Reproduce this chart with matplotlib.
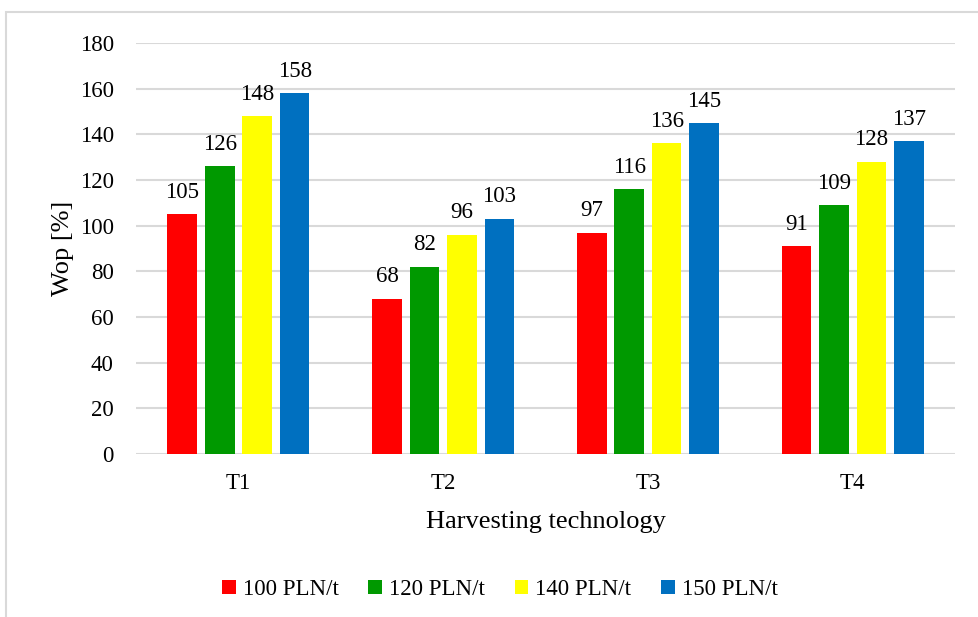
import matplotlib.pyplot as plt
from matplotlib.patches import Rectangle
import numpy as np

plt.rcParams['font.family'] = ['Liberation Serif', 'DejaVu Serif']

categories = ["T1", "T2", "T3", "T4"]
series = ["100 PLN/t", "120 PLN/t", "140 PLN/t", "150 PLN/t"]
values = [
    [105, 68, 97, 91],
    [126, 82, 116, 109],
    [148, 96, 136, 128],
    [158, 103, 145, 137],
]
colors = ["#ff0000", "#009900", "#ffff00", "#0070c0"]

fig = plt.figure(figsize=(9.79, 6.17), dpi=100)
ax = fig.add_axes([0.139, 0.2642, 0.8365, 0.6661])

# outer border like the Excel chart frame
fig.patches.append(Rectangle((6 / 979, -0.1), 1.2, 1 - 12 / 617 + 0.1,
                             transform=fig.transFigure, fill=False,
                             edgecolor="#d9d9d9", linewidth=1.5))

x = np.arange(len(categories))
width = 0.145
step = 0.183
for i, (name, vals, c) in enumerate(zip(series, values, colors)):
    pos = x + (i - 1.5) * step
    bars = ax.bar(pos, vals, width, color=c, label=name, zorder=3)
    for b, v in zip(bars, vals):
        ax.text(b.get_x() + b.get_width() / 2, v + 5, str(v),
                ha="center", va="bottom", fontsize=16.5)

ax.set_xlim(-0.5, 3.5)
ax.set_ylim(0, 180)
ax.set_yticks(range(0, 181, 20))
ax.set_xticks(x)
ax.set_xticklabels(categories)
ax.tick_params(axis="both", length=0, labelsize=16.5)
ax.tick_params(axis="y", pad=16)
ax.tick_params(axis="x", pad=14)
ax.grid(axis="y", color="#d9d9d9", linewidth=1.5, zorder=0)
for s in ax.spines.values():
    s.set_visible(False)

ax.set_ylabel("Wop [%]", fontsize=19, labelpad=4)
ax.set_xlabel("Harvesting technology", fontsize=19, labelpad=12)

ax.legend(loc="center", bbox_to_anchor=(0.444, -0.330), ncol=4,
          frameon=False, fontsize=16.5, handlelength=0.6, handleheight=0.6,
          handletextpad=0.3, columnspacing=1.3)

fig.savefig("out.png", dpi=100)
